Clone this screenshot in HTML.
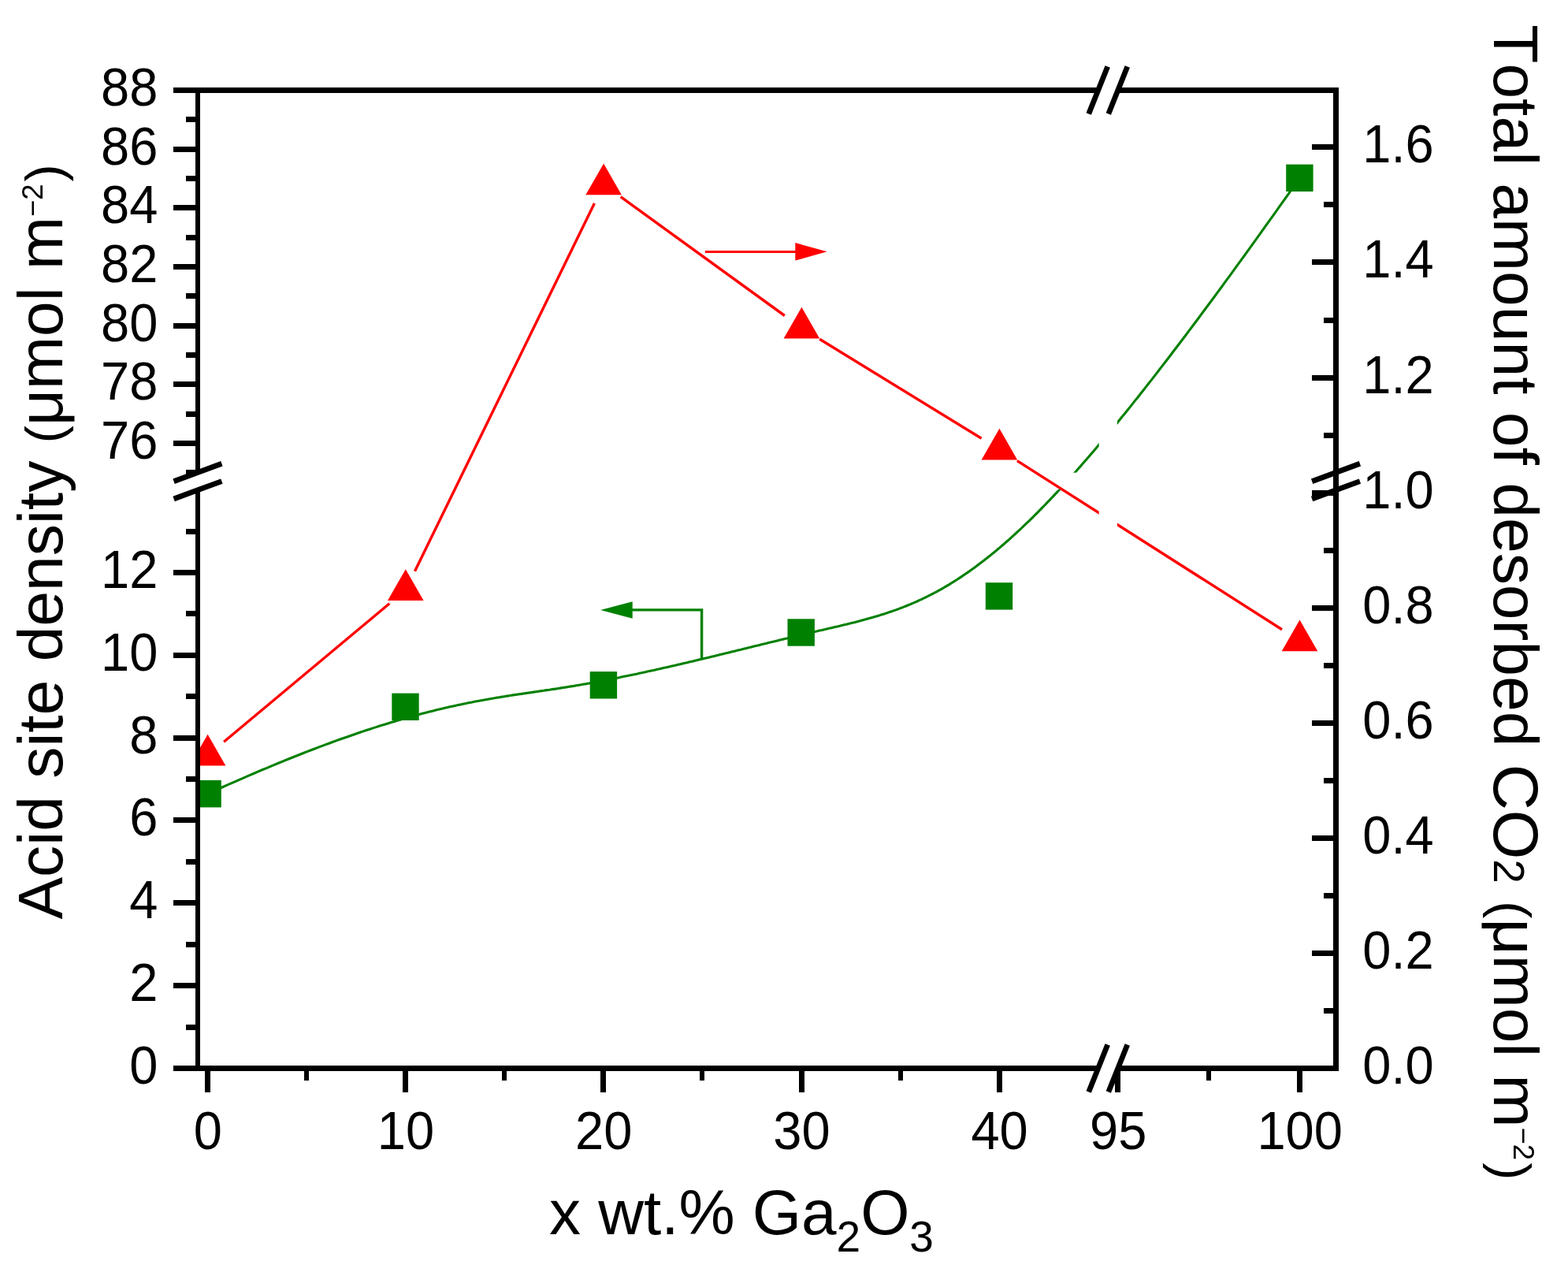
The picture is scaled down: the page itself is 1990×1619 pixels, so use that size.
<!DOCTYPE html>
<html><head><meta charset="utf-8"><title>Acid site density vs Ga2O3</title>
<style>html,body{margin:0;padding:0;background:#fff;}svg{display:block;} text{font-kerning:none;font-feature-settings:"kern" 0;}</style>
</head><body>
<svg width="1990" height="1619" viewBox="0 0 1990 1619">
<rect width="100%" height="100%" fill="#fff"/>
<defs>
<clipPath id="plot"><rect x="251" y="114.5" width="1444.5" height="1241"/></clipPath>
<mask id="mr" maskUnits="userSpaceOnUse" x="0" y="0" width="1990" height="1619"><rect width="100%" height="100%" fill="#fff"/><rect x="1394.7" y="0" width="23.2" height="1619" fill="#000"/></mask>
<mask id="mg" maskUnits="userSpaceOnUse" x="0" y="0" width="1990" height="1619"><rect width="100%" height="100%" fill="#fff"/><rect x="1394.7" y="0" width="23.2" height="1619" fill="#000"/><rect x="0" y="599.7" width="1990" height="21.3" fill="#000"/></mask>
</defs>
<g clip-path="url(#plot)">
<g mask="url(#mg)"><polyline points="263.6,1007.2 269.7,1004.4 275.7,1001.7 281.7,999.0 287.6,996.4 293.4,993.8 299.2,991.3 304.9,988.8 310.6,986.3 316.2,983.9 321.8,981.5 327.3,979.1 332.8,976.8 338.2,974.6 343.5,972.3 348.8,970.1 354.0,968.0 359.2,965.9 364.3,963.8 369.4,961.7 374.4,959.7 379.4,957.8 384.4,955.8 389.2,953.9 394.1,952.0 398.8,950.2 403.6,948.4 408.3,946.6 412.9,944.9 417.5,943.2 422.0,941.5 426.5,939.9 431.0,938.3 435.4,936.7 439.8,935.2 444.1,933.7 448.4,932.2 452.6,930.7 456.8,929.3 461.0,927.9 465.1,926.5 469.2,925.2 473.2,923.9 477.2,922.6 481.2,921.3 485.1,920.1 489.0,918.9 492.8,917.7 496.6,916.5 500.4,915.4 504.1,914.3 507.8,913.2 511.5,912.1 515.1,911.1 518.7,910.1 522.3,909.1 525.8,908.1 529.3,907.2 532.8,906.2 536.2,905.3 539.6,904.4 543.0,903.6 546.3,902.7 549.7,901.9 553.0,901.1 556.2,900.3 559.5,899.5 562.7,898.7 565.8,898.0 569.0,897.3 572.1,896.6 575.2,895.9 578.3,895.2 581.4,894.6 584.4,893.9 587.4,893.3 590.4,892.7 593.3,892.1 596.3,891.5 599.2,890.9 602.1,890.3 605.0,889.8 607.9,889.3 610.7,888.7 613.5,888.2 616.3,887.7 619.1,887.2 621.9,886.7 624.7,886.2 627.4,885.8 630.1,885.3 632.8,884.9 635.5,884.4 638.2,884.0 640.9,883.6 643.5,883.1 646.2,882.7 648.8,882.3 651.4,881.9 654.0,881.5 656.6,881.1 659.2,880.7 661.8,880.4 664.4,880.0 667.0,879.6 669.5,879.2 672.1,878.9 674.6,878.5 677.1,878.1 679.7,877.7 682.2,877.4 684.7,877.0 687.2,876.6 689.7,876.3 692.3,875.9 694.8,875.5 697.3,875.2 699.8,874.8 702.3,874.4 704.8,874.1 707.3,873.7 709.8,873.3 712.3,872.9 714.8,872.5 717.3,872.1 719.8,871.7 722.3,871.3 724.8,870.9 727.4,870.5 729.9,870.1 732.4,869.6 734.9,869.2 737.5,868.8 740.0,868.3 742.5,867.9 745.1,867.4 747.6,867.0 750.1,866.5 752.7,866.1 755.2,865.6 757.8,865.1 760.3,864.6 762.9,864.2 765.4,863.7 767.9,863.2 770.5,862.7 773.0,862.2 775.6,861.7 778.1,861.2 780.7,860.7 783.2,860.2 785.8,859.7 788.4,859.1 790.9,858.6 793.5,858.1 796.0,857.6 798.6,857.0 801.1,856.5 803.7,856.0 806.2,855.4 808.8,854.9 811.3,854.3 813.9,853.8 816.4,853.2 819.0,852.7 821.5,852.1 824.0,851.6 826.6,851.0 829.1,850.5 831.7,849.9 834.2,849.3 836.8,848.8 839.3,848.2 841.8,847.6 844.4,847.1 846.9,846.5 849.4,845.9 851.9,845.3 854.5,844.7 857.0,844.2 859.5,843.6 862.0,843.0 864.5,842.4 867.0,841.8 869.5,841.2 872.0,840.7 874.5,840.1 877.0,839.5 879.5,838.9 882.0,838.3 884.5,837.7 887.0,837.1 889.5,836.5 891.9,835.9 894.4,835.3 896.9,834.8 899.3,834.2 901.8,833.6 904.2,833.0 906.7,832.4 909.1,831.8 911.6,831.2 914.0,830.6 916.4,830.0 918.8,829.4 921.3,828.8 923.7,828.3 926.1,827.7 928.5,827.1 930.9,826.5 933.3,825.9 935.6,825.3 938.0,824.7 940.4,824.2 942.8,823.6 945.1,823.0 947.5,822.4 949.8,821.8 952.2,821.3 954.5,820.7 956.8,820.1 959.1,819.5 961.5,819.0 963.8,818.4 966.1,817.8 968.4,817.3 970.6,816.7 972.9,816.2 975.2,815.6 977.5,815.1 979.7,814.5 982.0,814.0 984.2,813.4 986.4,812.9 988.6,812.3 990.9,811.8 993.1,811.2 995.3,810.7 997.5,810.2 999.6,809.7 1001.8,809.1 1004.0,808.6 1006.1,808.1 1008.3,807.6 1010.4,807.1 1012.5,806.6 1014.6,806.1 1016.8,805.6 1018.8,805.1 1020.9,804.6 1023.0,804.1 1025.1,803.6 1027.1,803.1 1029.2,802.6 1031.2,802.2 1033.3,801.7 1035.3,801.2 1037.3,800.8 1039.3,800.3 1041.3,799.8 1043.3,799.4 1045.3,798.9 1047.2,798.5 1049.2,798.0 1051.1,797.6 1053.1,797.1 1055.0,796.7 1057.0,796.2 1058.9,795.8 1060.8,795.3 1062.7,794.9 1064.6,794.4 1066.5,794.0 1068.4,793.5 1070.3,793.1 1072.2,792.6 1074.0,792.2 1075.9,791.7 1077.8,791.2 1079.6,790.8 1081.5,790.3 1083.3,789.9 1085.2,789.4 1087.0,788.9 1088.8,788.4 1090.6,788.0 1092.5,787.5 1094.3,787.0 1096.1,786.5 1097.9,786.0 1099.7,785.5 1101.5,785.0 1103.3,784.5 1105.1,784.0 1106.9,783.5 1108.7,783.0 1110.4,782.5 1112.2,782.0 1114.0,781.4 1115.8,780.9 1117.5,780.3 1119.3,779.8 1121.1,779.2 1122.8,778.7 1124.6,778.1 1126.4,777.5 1128.1,776.9 1129.9,776.3 1131.6,775.7 1133.4,775.1 1135.1,774.5 1136.9,773.9 1138.7,773.2 1140.4,772.6 1142.2,771.9 1143.9,771.3 1145.7,770.6 1147.4,769.9 1149.2,769.2 1150.9,768.5 1152.7,767.8 1154.4,767.1 1156.2,766.3 1157.9,765.6 1159.7,764.8 1161.4,764.1 1163.2,763.3 1165.0,762.5 1166.7,761.7 1168.5,760.9 1170.3,760.1 1172.0,759.2 1173.8,758.4 1175.6,757.5 1177.3,756.6 1179.1,755.7 1180.9,754.8 1182.7,753.9 1184.5,753.0 1186.3,752.0 1188.1,751.1 1189.8,750.1 1191.6,749.1 1193.5,748.1 1195.3,747.1 1197.1,746.1 1198.9,745.0 1200.7,743.9 1202.5,742.9 1204.4,741.8 1206.2,740.6 1208.0,739.5 1209.9,738.4 1211.7,737.2 1213.6,736.0 1215.5,734.8 1217.3,733.6 1219.2,732.4 1221.1,731.1 1223.0,729.8 1224.9,728.5 1226.8,727.2 1228.7,725.9 1230.6,724.6 1232.5,723.2 1234.4,721.8 1236.4,720.4 1238.3,719.0 1240.3,717.5 1242.2,716.1 1244.2,714.6 1246.2,713.1 1248.2,711.6 1250.1,710.0 1252.1,708.4 1254.2,706.8 1256.2,705.2 1258.2,703.6 1260.2,701.9 1262.3,700.3 1264.3,698.6 1266.4,696.8 1268.5,695.1 1270.6,693.3 1272.7,691.5 1274.8,689.7 1276.9,687.8 1279.0,686.0 1281.2,684.1 1283.3,682.1 1285.5,680.2 1287.7,678.2 1289.8,676.2 1292.0,674.1 1294.3,672.1 1296.5,670.0 1298.7,667.8 1301.0,665.7 1303.3,663.5 1305.6,661.3 1307.9,659.1 1310.2,656.8 1312.5,654.5 1314.9,652.1 1317.2,649.8 1319.6,647.4 1322.0,644.9 1324.4,642.5 1326.9,640.0 1329.3,637.4 1331.8,634.9 1334.2,632.3 1336.7,629.6 1339.3,626.9 1341.8,624.2 1344.4,621.5 1346.9,618.7 1349.5,615.9 1352.1,613.0 1354.8,610.1 1357.4,607.2 1360.1,604.3 1362.8,601.2 1365.5,598.2 1368.2,595.1 1371.0,592.0 1373.7,588.8 1376.5,585.6 1379.3,582.4 1382.2,579.1 1385.0,575.8 1387.9,572.4 1390.8,569.0 1393.7,565.5 1396.7,562.0 1399.7,558.5 1402.7,554.9 1405.7,551.3 1408.7,547.6 1411.8,543.9 1414.9,540.2 1418.0,536.4 1421.1,532.5 1424.3,528.6 1427.5,524.7 1430.7,520.7 1434.0,516.6 1437.2,512.6 1440.5,508.4 1443.9,504.2 1447.2,500.0 1450.6,495.7 1454.0,491.4 1457.4,487.0 1460.9,482.6 1464.4,478.1 1467.9,473.6 1471.4,469.0 1475.0,464.4 1478.6,459.7 1482.3,455.0 1485.9,450.2 1489.6,445.3 1493.3,440.5 1497.1,435.5 1500.9,430.5 1504.7,425.5 1508.5,420.3 1512.4,415.2 1516.3,410.0 1520.3,404.7 1524.2,399.4 1528.2,394.0 1532.3,388.5 1536.4,383.0 1540.5,377.5 1544.6,371.8 1548.8,366.2 1553.0,360.4 1557.2,354.6 1561.5,348.8 1565.8,342.9 1570.1,336.9 1574.5,330.9 1578.9,324.8 1583.4,318.6 1587.9,312.4 1592.4,306.1 1596.9,299.8 1601.5,293.4 1606.1,286.9 1610.8,280.4 1615.5,273.8 1620.3,267.1 1625.0,260.4 1629.9,253.6 1634.7,246.8 1639.6,239.8 1644.5,232.9 1649.5,225.8" fill="none" stroke="#008000" stroke-width="3.1" stroke-linejoin="round"/></g>
<g mask="url(#mr)"><path d="M284.1,941.2 L494.3,765.8 M526.5,724.7 L754.4,258.0 M787.7,249.7 L995.8,400.5 M1040.2,430.2 L1245.6,556.3 M1290.9,584.6 L1627.0,798.7" fill="none" stroke="#ff0000" stroke-width="3.4"/></g>
<rect x="246.4" y="990.0" width="34.4" height="34.4" fill="#008000"/>
<rect x="497.3" y="879.6" width="34.4" height="34.4" fill="#008000"/>
<rect x="748.7" y="852.1" width="34.4" height="34.4" fill="#008000"/>
<rect x="999.5" y="785.3" width="34.4" height="34.4" fill="#008000"/>
<rect x="1250.8" y="739.2" width="34.4" height="34.4" fill="#008000"/>
<rect x="1632.2" y="208.6" width="34.4" height="34.4" fill="#008000"/>
<polygon points="263.6,931.8 286.4,971.6 240.8,971.6" fill="#ff0000"/>
<polygon points="514.8,722.2 537.6,762.0 492.0,762.0" fill="#ff0000"/>
<polygon points="766.1,207.5 788.9,247.3 743.3,247.3" fill="#ff0000"/>
<polygon points="1017.4,389.7 1040.2,429.5 994.6,429.5" fill="#ff0000"/>
<polygon points="1268.4,543.8 1291.2,583.6 1245.6,583.6" fill="#ff0000"/>
<polygon points="1649.5,786.5 1672.3,826.3 1626.7,826.3" fill="#ff0000"/>
</g>
<line x1="894.8" y1="319.4" x2="1010" y2="319.4" stroke="#ff0000" stroke-width="3"/>
<polygon points="1009.3,308 1049.6,319.3 1009.3,330.6" fill="#ff0000"/>
<polyline points="890.6,836 890.6,773.9 801,773.9" fill="none" stroke="#008000" stroke-width="3.4"/>
<polygon points="802.7,763.2 762.1,773.9 802.7,784.7" fill="#008000"/>
<g fill="#000">
<rect x="248" y="111" width="6" height="489"/>
<rect x="248" y="621" width="6" height="738"/>
<rect x="1692" y="111" width="7" height="1248"/>
<rect x="248" y="111" width="1146" height="7"/>
<rect x="1419" y="111" width="280" height="7"/>
<rect x="220" y="1352" width="1174" height="7"/>
<rect x="1419" y="1352" width="280" height="7"/>
<rect x="220" y="1352" width="28" height="7"/>
<rect x="236" y="1300" width="12" height="7"/>
<rect x="220" y="1247" width="28" height="7"/>
<rect x="236" y="1195" width="12" height="7"/>
<rect x="220" y="1142" width="28" height="7"/>
<rect x="236" y="1090" width="12" height="7"/>
<rect x="220" y="1037" width="28" height="7"/>
<rect x="236" y="985" width="12" height="7"/>
<rect x="220" y="933" width="28" height="7"/>
<rect x="236" y="880" width="12" height="7"/>
<rect x="220" y="828" width="28" height="7"/>
<rect x="236" y="775" width="12" height="7"/>
<rect x="220" y="723" width="28" height="7"/>
<rect x="236" y="671" width="12" height="7"/>
<rect x="236" y="596" width="12" height="7"/>
<rect x="220" y="559" width="28" height="7"/>
<rect x="236" y="522" width="12" height="7"/>
<rect x="220" y="484" width="28" height="7"/>
<rect x="236" y="447" width="12" height="7"/>
<rect x="220" y="410" width="28" height="7"/>
<rect x="236" y="372" width="12" height="7"/>
<rect x="220" y="335" width="28" height="7"/>
<rect x="236" y="298" width="12" height="7"/>
<rect x="220" y="260" width="28" height="7"/>
<rect x="236" y="223" width="12" height="7"/>
<rect x="220" y="186" width="28" height="7"/>
<rect x="236" y="148" width="12" height="7"/>
<rect x="220" y="111" width="28" height="7"/>
<rect x="1680" y="1279" width="12" height="7"/>
<rect x="1665" y="1206" width="27" height="7"/>
<rect x="1680" y="1133" width="12" height="7"/>
<rect x="1665" y="1060" width="27" height="7"/>
<rect x="1680" y="987" width="12" height="7"/>
<rect x="1665" y="914" width="27" height="7"/>
<rect x="1680" y="841" width="12" height="7"/>
<rect x="1665" y="768" width="27" height="7"/>
<rect x="1680" y="695" width="12" height="7"/>
<rect x="1665" y="622" width="27" height="7"/>
<rect x="1680" y="549" width="12" height="7"/>
<rect x="1665" y="476" width="27" height="7"/>
<rect x="1680" y="403" width="12" height="7"/>
<rect x="1665" y="329" width="27" height="7"/>
<rect x="1680" y="256" width="12" height="7"/>
<rect x="1665" y="183" width="27" height="7"/>
<rect x="260" y="1359" width="7" height="27"/>
<rect x="511" y="1359" width="7" height="27"/>
<rect x="762" y="1359" width="7" height="27"/>
<rect x="1014" y="1359" width="7" height="27"/>
<rect x="1265" y="1359" width="7" height="27"/>
<rect x="1415" y="1359" width="7" height="27"/>
<rect x="1646" y="1359" width="7" height="27"/>
<rect x="386" y="1359" width="6" height="12"/>
<rect x="637" y="1359" width="6" height="12"/>
<rect x="888" y="1359" width="6" height="12"/>
<rect x="1140" y="1359" width="6" height="12"/>
<rect x="1531" y="1359" width="6" height="12"/>
</g>
<line x1="1405.70" y1="84.50" x2="1381.70" y2="144.50" stroke="#000" stroke-width="6.8"/>
<line x1="1405.70" y1="1325.50" x2="1381.70" y2="1385.50" stroke="#000" stroke-width="6.8"/>
<line x1="1430.80" y1="84.50" x2="1406.80" y2="144.50" stroke="#000" stroke-width="6.8"/>
<line x1="1430.80" y1="1325.50" x2="1406.80" y2="1385.50" stroke="#000" stroke-width="6.8"/>
<line x1="220.60" y1="610.69" x2="281.40" y2="588.31" stroke="#000" stroke-width="6.8"/>
<line x1="1665.10" y1="610.69" x2="1725.90" y2="588.31" stroke="#000" stroke-width="6.8"/>
<line x1="220.60" y1="632.99" x2="281.40" y2="610.61" stroke="#000" stroke-width="6.8"/>
<line x1="1665.10" y1="632.99" x2="1725.90" y2="610.61" stroke="#000" stroke-width="6.8"/>
<g font-family="'Liberation Sans', Arial, sans-serif" font-size="65" fill="#000">
<text transform="translate(200.3,1374.8) scale(1,1.050)" text-anchor="end">0</text>
<text transform="translate(200.3,1270.0) scale(1,1.050)" text-anchor="end">2</text>
<text transform="translate(200.3,1165.1) scale(1,1.050)" text-anchor="end">4</text>
<text transform="translate(200.3,1060.3) scale(1,1.050)" text-anchor="end">6</text>
<text transform="translate(200.3,955.5) scale(1,1.050)" text-anchor="end">8</text>
<text transform="translate(200.3,850.6) scale(1,1.050)" text-anchor="end">10</text>
<text transform="translate(200.3,745.8) scale(1,1.050)" text-anchor="end">12</text>
<text transform="translate(200.3,581.8) scale(1,1.050)" text-anchor="end">76</text>
<text transform="translate(200.3,507.1) scale(1,1.050)" text-anchor="end">78</text>
<text transform="translate(200.3,432.5) scale(1,1.050)" text-anchor="end">80</text>
<text transform="translate(200.3,357.8) scale(1,1.050)" text-anchor="end">82</text>
<text transform="translate(200.3,283.1) scale(1,1.050)" text-anchor="end">84</text>
<text transform="translate(200.3,208.5) scale(1,1.050)" text-anchor="end">86</text>
<text transform="translate(200.3,133.8) scale(1,1.050)" text-anchor="end">88</text>
<text transform="translate(1729.3,1374.9) scale(1,1.050)" text-anchor="start">0.0</text>
<text transform="translate(1729.3,1228.8) scale(1,1.050)" text-anchor="start">0.2</text>
<text transform="translate(1729.3,1082.8) scale(1,1.050)" text-anchor="start">0.4</text>
<text transform="translate(1729.3,936.7) scale(1,1.050)" text-anchor="start">0.6</text>
<text transform="translate(1729.3,790.6) scale(1,1.050)" text-anchor="start">0.8</text>
<text transform="translate(1729.3,644.5) scale(1,1.050)" text-anchor="start">1.0</text>
<text transform="translate(1729.3,498.5) scale(1,1.050)" text-anchor="start">1.2</text>
<text transform="translate(1729.3,352.4) scale(1,1.050)" text-anchor="start">1.4</text>
<text transform="translate(1729.3,206.3) scale(1,1.050)" text-anchor="start">1.6</text>
<text transform="translate(263.8,1457.8) scale(1,1.050)" text-anchor="middle">0</text>
<text transform="translate(515.0,1457.8) scale(1,1.050)" text-anchor="middle">10</text>
<text transform="translate(766.2,1457.8) scale(1,1.050)" text-anchor="middle">20</text>
<text transform="translate(1017.4,1457.8) scale(1,1.050)" text-anchor="middle">30</text>
<text transform="translate(1268.6,1457.8) scale(1,1.050)" text-anchor="middle">40</text>
<text transform="translate(1419.2,1457.8) scale(1,1.050)" text-anchor="middle">95</text>
<text transform="translate(1649.6,1457.8) scale(1,1.050)" text-anchor="middle">100</text>
</g>
<g font-family="'Liberation Sans', Arial, sans-serif" font-size="80.4" fill="#000">
<text transform="translate(78.9,1166.5) rotate(-90)">Acid site <tspan dx="1">density</tspan> <tspan font-size="66.3">(</tspan>μmol m<tspan font-size="36.5" dy="-25">−2</tspan><tspan font-size="66.3" dy="25" dx="3">)</tspan></text>
<text transform="translate(1896,31.3) rotate(90)">Total amount of desorbed CO<tspan font-size="55">2</tspan> <tspan font-size="66.3">(</tspan>μmol m<tspan font-size="36.5" dy="-25">−2</tspan><tspan font-size="66.3" dy="25" dx="3">)</tspan></text>
<text x="697" y="1565.8" font-size="80">x wt.% Ga<tspan font-size="55" dy="22">2</tspan><tspan dy="-22">O</tspan><tspan font-size="55" dy="22">3</tspan></text>
</g>
</svg>
</body></html>
